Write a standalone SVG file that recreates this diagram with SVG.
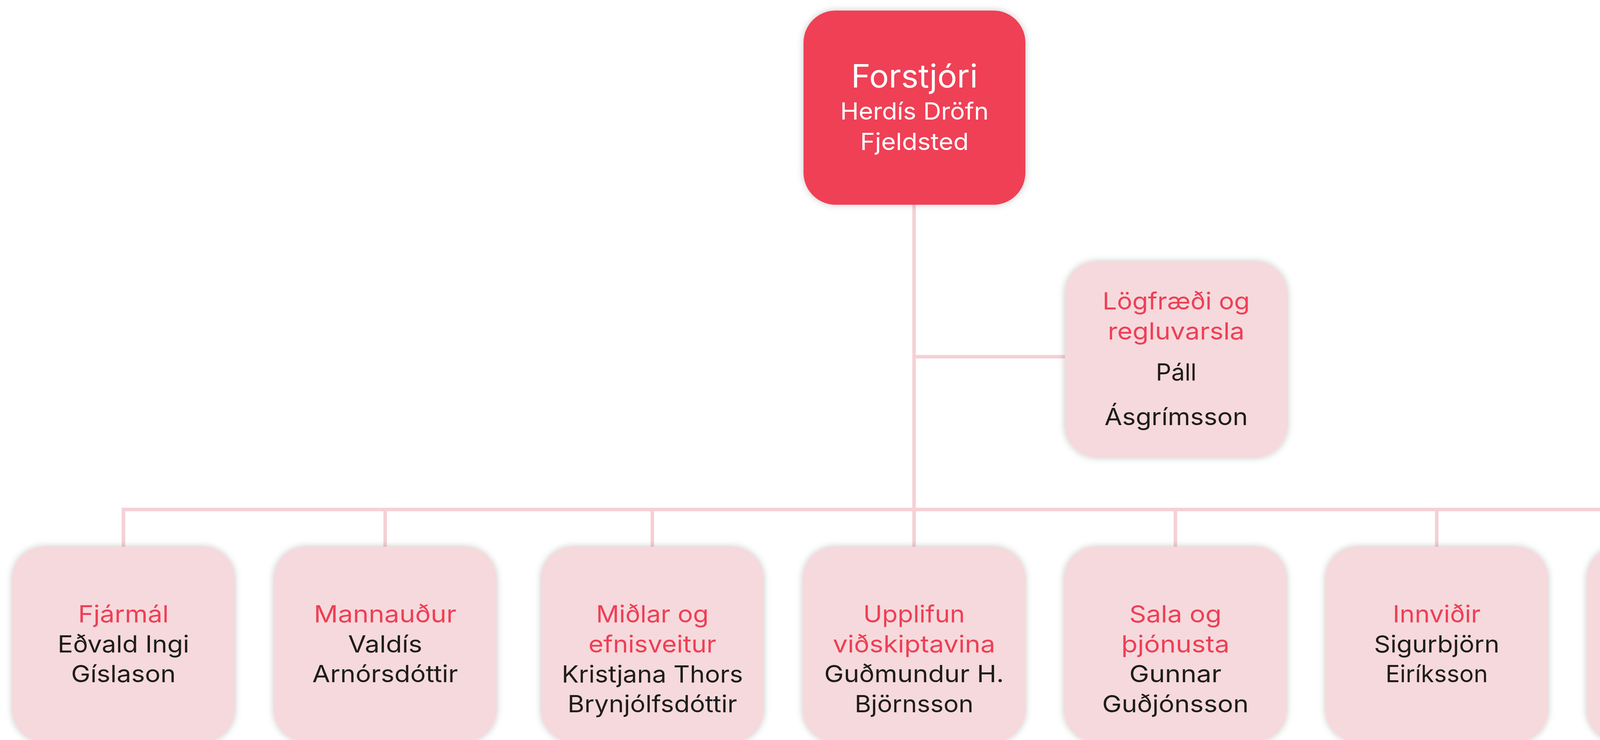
<svg xmlns="http://www.w3.org/2000/svg" width="4603" height="1894" viewBox="0 0 4603 1894">
<defs>
<filter id="sh" x="-10%" y="-10%" width="120%" height="120%">
<feDropShadow dx="0" dy="0" stdDeviation="9" flood-color="#000" flood-opacity="0.22"/>
</filter>
<style>
.box{fill:#f6d9dc;filter:url(#sh)}
.top{fill:#ef4056;filter:url(#sh)}
.ln{fill:none;stroke:#f5d0d5;stroke-width:9;stroke-linejoin:miter}
text{font-family:Inter,"Noto Sans","Liberation Sans",sans-serif;font-size:61px;text-anchor:middle}
.r{fill:#ee3f56}
.k{fill:#1d1d1b}
.w{fill:#ffffff}
</style>
</defs>
<rect width="4603" height="1894" fill="#ffffff"/>
<g id="connectors">
<path class="ln" d="M2340 524 V1399"/>
<path class="ln" d="M2340 913 H2726"/>
<path class="ln" d="M316 1399 V1304 H4347 V1399"/>
<path class="ln" d="M986 1304 V1399"/>
<path class="ln" d="M1670 1304 V1399"/>
<path class="ln" d="M3009 1304 V1399"/>
<path class="ln" d="M3678 1304 V1399"/>
</g>
<g id="forstjori">
<rect class="top" x="2057" y="27" width="568" height="497" rx="82"/>
<text class="w" x="2341" y="224" style="font-size:82px" textLength="324" lengthAdjust="spacingAndGlyphs">Forstjóri</text>
<text class="w" x="2341" y="306" textLength="380" lengthAdjust="spacingAndGlyphs">Herdís Dröfn</text>
<text class="w" x="2341" y="384" textLength="278" lengthAdjust="spacingAndGlyphs">Fjeldsted</text>
</g>
<g id="logfraedi">
<rect class="box" x="2726" y="669" width="570" height="502" rx="82"/>
<text class="r" x="3011" y="792" textLength="377" lengthAdjust="spacingAndGlyphs">Lögfræði og</text>
<text class="r" x="3011" y="869" textLength="350" lengthAdjust="spacingAndGlyphs">regluvarsla</text>
<text class="k" x="3011" y="974" textLength="104" lengthAdjust="spacingAndGlyphs">Páll</text>
<text class="k" x="3011" y="1088" textLength="367" lengthAdjust="spacingAndGlyphs">Ásgrímsson</text>
</g>
<g id="fjarmal">
<rect class="box" x="31" y="1399" width="570" height="500" rx="82"/>
<text class="r" x="316" y="1593" textLength="232" lengthAdjust="spacingAndGlyphs">Fjármál</text>
<text class="k" x="316" y="1670" textLength="337" lengthAdjust="spacingAndGlyphs">Eðvald Ingi</text>
<text class="k" x="316" y="1746" textLength="268" lengthAdjust="spacingAndGlyphs">Gíslason</text>
</g>
<g id="mannaudur">
<rect class="box" x="701" y="1399" width="570" height="500" rx="82"/>
<text class="r" x="986" y="1593" textLength="365" lengthAdjust="spacingAndGlyphs">Mannauður</text>
<text class="k" x="986" y="1670" textLength="190" lengthAdjust="spacingAndGlyphs">Valdís</text>
<text class="k" x="986" y="1746" textLength="373" lengthAdjust="spacingAndGlyphs">Arnórsdóttir</text>
</g>
<g id="midlar">
<rect class="box" x="1385" y="1399" width="570" height="500" rx="82"/>
<text class="r" x="1670" y="1593" textLength="288" lengthAdjust="spacingAndGlyphs">Miðlar og</text>
<text class="r" x="1670" y="1670" textLength="327" lengthAdjust="spacingAndGlyphs">efnisveitur</text>
<text class="k" x="1670" y="1747" textLength="464" lengthAdjust="spacingAndGlyphs">Kristjana Thors</text>
<text class="k" x="1670" y="1823" textLength="434" lengthAdjust="spacingAndGlyphs">Brynjólfsdóttir</text>
</g>
<g id="upplifun">
<rect class="box" x="2055" y="1399" width="570" height="500" rx="82"/>
<text class="r" x="2340" y="1593" textLength="260" lengthAdjust="spacingAndGlyphs">Upplifun</text>
<text class="r" x="2340" y="1670" textLength="416" lengthAdjust="spacingAndGlyphs">viðskiptavina</text>
<text class="k" x="2340" y="1746" textLength="460" lengthAdjust="spacingAndGlyphs">Guðmundur H.</text>
<text class="k" x="2340" y="1823" textLength="304" lengthAdjust="spacingAndGlyphs">Björnsson</text>
</g>
<g id="sala">
<rect class="box" x="2724" y="1399" width="570" height="500" rx="82"/>
<text class="r" x="3009" y="1593" textLength="236" lengthAdjust="spacingAndGlyphs">Sala og</text>
<text class="r" x="3009" y="1670" textLength="277" lengthAdjust="spacingAndGlyphs">þjónusta</text>
<text class="k" x="3009" y="1746" textLength="236" lengthAdjust="spacingAndGlyphs">Gunnar</text>
<text class="k" x="3009" y="1823" textLength="375" lengthAdjust="spacingAndGlyphs">Guðjónsson</text>
</g>
<g id="innvidir">
<rect class="box" x="3393" y="1399" width="570" height="500" rx="82"/>
<text class="r" x="3678" y="1593" textLength="225" lengthAdjust="spacingAndGlyphs">Innviðir</text>
<text class="k" x="3678" y="1670" textLength="321" lengthAdjust="spacingAndGlyphs">Sigurbjörn</text>
<text class="k" x="3678" y="1746" textLength="262" lengthAdjust="spacingAndGlyphs">Eiríksson</text>
</g>
<g id="upplysingataekni">
<rect class="box" x="4062" y="1399" width="570" height="500" rx="82"/>
<text class="r" x="4347" y="1593" textLength="385" lengthAdjust="spacingAndGlyphs">Upplýsinga-</text>
<text class="r" x="4347" y="1670" textLength="179" lengthAdjust="spacingAndGlyphs">tækni</text>
<text class="k" x="4347" y="1746" textLength="237" lengthAdjust="spacingAndGlyphs">Gunnar</text>
<text class="k" x="4347" y="1823" textLength="401" lengthAdjust="spacingAndGlyphs">Sigurjónsson</text>
</g>
</svg>
